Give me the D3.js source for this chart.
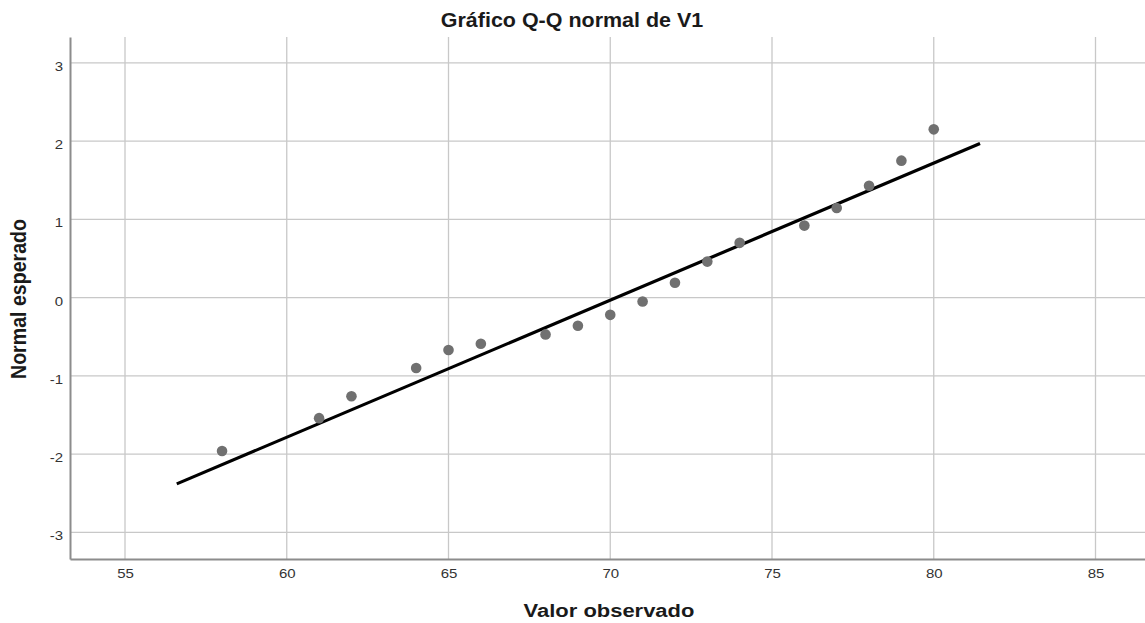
<!DOCTYPE html>
<html>
<head>
<meta charset="utf-8">
<script src="https://cdn.jsdelivr.net/npm/d3@7"></script>
<style>
  html, body { margin: 0; padding: 0; background: #fff; }
  svg { display: block; font-family: "Liberation Sans", Arial, sans-serif; }
</style>
</head>
<body>
<svg id="chart" width="1145" height="623"></svg>
<script>
const title = "Gráfico Q-Q normal de V1";
const xTitle = "Valor observado";
const yTitle = "Normal esperado";

const observed = [58, 61, 62, 64, 65, 66, 68, 69, 70, 71, 72, 73, 74, 76, 77, 78, 79, 80];
const expected = [-1.96, -1.54, -1.26, -0.90, -0.67, -0.59, -0.47, -0.36, -0.22, -0.05, 0.19, 0.46, 0.70, 0.92, 1.145, 1.43, 1.75, 2.15];

const lineX = [56.6, 81.43];
const lineY = [-2.38, 1.97];

const xTicks = [55, 60, 65, 70, 75, 80, 85];
const yTicks = [-3, -2, -1, 0, 1, 2, 3];

const svg = d3.select("#chart");
const mLeft = 70, mRight = 1145, mTop = 37, mBottom = 559;
const stretch = 1.2;

const x = d3.scaleLinear().domain([53.30, 86.53]).range([mLeft, mRight]);
const y = d3.scaleLinear().domain([-3.34, 3.33]).range([mBottom, mTop]);

// grid
svg.append("g").selectAll("line").data(xTicks).join("line")
  .attr("x1", d => x(d)).attr("x2", d => x(d))
  .attr("y1", mTop).attr("y2", mBottom)
  .attr("stroke", "#c8c8c8").attr("stroke-width", 1.3);
svg.append("g").selectAll("line").data(yTicks).join("line")
  .attr("x1", mLeft).attr("x2", mRight)
  .attr("y1", d => y(d)).attr("y2", d => y(d))
  .attr("stroke", "#c8c8c8").attr("stroke-width", 1.3);

// axes
const fmt = d => String(d);
const xAxis = d3.axisBottom(x).tickValues(xTicks).tickFormat(fmt).tickSize(0).tickPadding(10);
const yAxis = d3.axisLeft(y).tickValues(yTicks).tickFormat(fmt).tickSize(0).tickPadding(7);
const gx = svg.append("g").attr("transform", `translate(0,${mBottom})`).call(xAxis);
const gy = svg.append("g").attr("transform", `translate(${mLeft},0)`).call(yAxis);
[gx, gy].forEach(g => {
  g.select(".domain").attr("stroke", "#8c8c8c").attr("stroke-width", 2);
  g.selectAll("text").attr("fill", "#333").style("font-size", "12.5px")
    .style("font-family", '"Liberation Sans", Arial, sans-serif');
});
gx.selectAll(".tick text").attr("transform", `scale(${stretch},1)`);
gy.selectAll(".tick text").attr("x", -7 / stretch).attr("dy", "0.6em")
  .attr("transform", `scale(${stretch},1)`);

// reference line
svg.append("line")
  .attr("x1", x(lineX[0])).attr("y1", y(lineY[0]))
  .attr("x2", x(lineX[1])).attr("y2", y(lineY[1]))
  .attr("stroke", "#000").attr("stroke-width", 3.2);

// points
svg.append("g").selectAll("circle").data(observed).join("circle")
  .attr("cx", d => x(d)).attr("cy", (d, i) => y(expected[i]))
  .attr("r", 5.3).attr("fill", "#707070");

// titles
svg.append("text").attr("transform", "translate(572,26.5) scale(1.09,1)").attr("text-anchor", "middle")
  .style("font-size", "19.7px").style("font-weight", "bold").attr("fill", "#1a1a1a").text(title);
svg.append("text").attr("transform", "translate(609,617) scale(1.2,1)").attr("text-anchor", "middle")
  .style("font-size", "18.3px").style("font-weight", "bold").attr("fill", "#1a1a1a").text(xTitle);
svg.append("text").attr("transform", "translate(26,299) scale(1.15,1) rotate(-90)").attr("text-anchor", "middle")
  .style("font-size", "19.6px").style("font-weight", "bold").attr("fill", "#1a1a1a").text(yTitle);
</script>
</body>
</html>
